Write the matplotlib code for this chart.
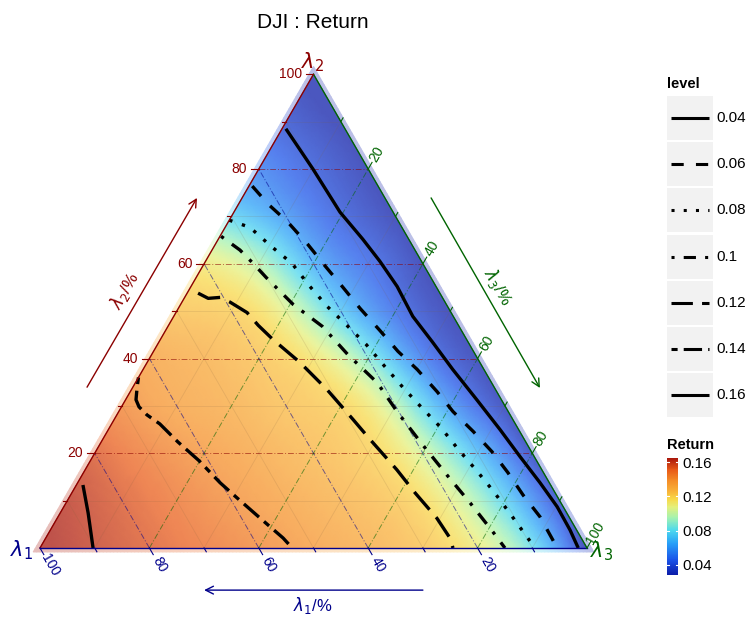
import numpy as np
import matplotlib
matplotlib.use('Agg')
import matplotlib.pyplot as plt
import matplotlib.tri as mtri
from matplotlib.colors import LinearSegmentedColormap, Normalize, to_rgb
from matplotlib.patches import Rectangle
from matplotlib.cm import ScalarMappable

plt.rcParams['font.family'] = ['Liberation Sans', 'DejaVu Sans']

# Return surface: one row per lambda2 = 0,10,...,100,
# each row runs over lambda3 = 0,10,... up to 100 - lambda2
ret_rows = [
    [0.166, 0.160, 0.1545, 0.149, 0.143, 0.137, 0.131, 0.124, 0.111, 0.082, 0.026],
    [0.162, 0.155, 0.148, 0.141, 0.135, 0.129, 0.123, 0.108, 0.077, 0.034],
    [0.155, 0.146, 0.139, 0.133, 0.127, 0.121, 0.103, 0.070, 0.032],
    [0.143, 0.1355, 0.131, 0.125, 0.120, 0.098, 0.059, 0.030],
    [0.135, 0.130, 0.124, 0.114, 0.088, 0.051, 0.029],
    [0.124, 0.121, 0.106, 0.074, 0.046, 0.028],
    [0.112, 0.097, 0.066, 0.045, 0.028],
    [0.077, 0.059, 0.041, 0.028],
    [0.053, 0.040, 0.028],
    [0.037, 0.027],
    [0.026],
]

levels = ['0.04', '0.06', '0.08', '0.1', '0.12', '0.14', '0.16']

# contour lines, (lambda2 %, lambda3 %)
l2_004 = [88.5, 80.0, 70.9, 65.2, 60.5, 55.2, 48.9, 43.4, 37.7, 31.3, 25.0, 19.3, 13.8, 8.7, 3.8, 0.0]
l3_004 = [0.7, 9.9, 19.4, 26.4, 31.9, 37.7, 43.7, 50.1, 56.6, 64.2, 71.6, 78.1, 84.5, 90.2, 95.0, 98.4]
l2_006 = [76.4, 72.6, 68.8, 64.1, 59.5, 55.0, 50.6, 45.9, 41.5, 37.7, 33.0, 28.8, 24.6, 20.3, 15.9, 11.2, 6.6, 1.7, 0.0]
l3_006 = [0.6, 5.4, 10.9, 16.9, 22.4, 27.9, 33.2, 39.2, 44.7, 50.1, 56.1, 61.1, 66.9, 72.5, 77.6, 82.7, 88.1, 92.9, 94.5]
l2_008 = [69.2, 67.7, 63.7, 60.1, 55.4, 51.0, 47.0, 43.0, 38.3, 33.9, 29.6, 25.4, 20.7, 16.3, 11.9, 7.0, 2.3, 0.0]
l3_008 = [0.0, 4.5, 10.4, 16.0, 21.5, 27.0, 32.6, 38.1, 43.9, 49.4, 55.0, 60.6, 66.2, 71.7, 77.0, 82.6, 87.9, 90.5]
l2_010 = [65.8, 62.9, 60.1, 57.1, 51.4, 46.8, 40.8, 34.9, 28.6, 22.0, 15.4, 9.5, 3.4, 0.0]
l3_010 = [0.2, 5.1, 8.9, 12.8, 20.6, 28.2, 35.9, 44.2, 51.1, 58.8, 66.7, 73.9, 81.1, 85.0]
l2_012 = [53.8, 52.7, 52.9, 51.9, 49.7, 47.0, 44.0, 39.2, 33.4, 27.1, 22.9, 16.5, 11.6, 6.3, 2.1, 0.0]
l3_012 = [2.0, 4.4, 6.5, 8.8, 13.0, 16.4, 20.6, 27.9, 35.8, 43.7, 48.9, 57.0, 62.8, 69.4, 73.9, 75.5]
l2_014 = [36.0, 33.9, 31.3, 29.8, 28.1, 26.2, 22.4, 18.4, 13.8, 10.6, 6.3, 2.1, 0.0]
l3_014 = [0.0, 0.8, 1.9, 3.2, 5.5, 8.8, 14.0, 19.9, 26.0, 30.7, 37.1, 43.4, 46.1]
l2_016 = [13.3, 7.4, 0.0]
l3_016 = [1.2, 5.1, 9.7]

contours = [(l2_004, l3_004), (l2_006, l3_006), (l2_008, l3_008), (l2_010, l3_010),
            (l2_012, l3_012), (l2_014, l3_014), (l2_016, l3_016)]
# R linetypes: solid, dashed, dotted, dotdash, longdash, twodash, solid
styles = ['-', (0, (4, 4)), (0, (1, 3)), (0, (1, 3, 4, 3)), (0, (7, 3)), (0, (2, 2, 6, 2)), '-']

ticks = [20, 40, 60, 80, 100]
minor = [10, 30, 50, 70, 90]

RED, BLUE, GREEN = '#8B0000', '#00008B', '#006400'
H = np.sqrt(3) / 2


def tern(l2, l3):
    l2 = np.asarray(l2, float) / 100
    l3 = np.asarray(l3, float) / 100
    return l3 + l2 / 2, l2 * H


vmin, vmax = 0.028, 0.165
anchors = [(0.0, '#0c1ca8'), (0.125, '#1a52e8'), (0.27, '#28a0f8'), (0.38, '#4cd8ee'),
           (0.49, '#a4f2b0'), (0.58, '#e4f07c'), (0.65, '#f8d848'), (0.72, '#f8b038'),
           (0.80, '#f59028'), (0.90, '#e85a18'), (1.0, '#a8160c')]
cmap = LinearSegmentedColormap.from_list('ret', anchors)


def faded(a):
    return LinearSegmentedColormap.from_list(
        'f', [(p, tuple(a * np.array(to_rgb(c)) + (1 - a))) for p, c in anchors])


norm = Normalize(vmin, vmax)

fig = plt.figure(figsize=(7.53, 6.18), dpi=100)
ax = fig.add_axes([0, 0, 1, 1])
ax.set_xlim(-40 / 547, 713 / 547)
ax.set_ylim(-70 / 547, 548 / 547)
ax.axis('off')

# field
pb, pc, pv = [], [], []
for i, row in enumerate(ret_rows):
    for j, v in enumerate(row):
        pb.append(10 * i)
        pc.append(10 * j)
        pv.append(v)
x, y = tern(pb, pc)
z = np.array(pv)
tri = mtri.Triangulation(x, y)
tri_f, z_f = mtri.UniformTriRefiner(tri).refine_field(z, subdiv=4)
z_f = np.clip(z_f, vmin, vmax)

xc, yc = 0.5, H / 3
halo = mtri.Triangulation(xc + 1.025 * (tri_f.x - xc), yc + 1.025 * (tri_f.y - yc), tri_f.triangles)
ax.tripcolor(halo, z_f, shading='gouraud', cmap=faded(0.28), norm=norm)
ax.tripcolor(tri_f, z_f, shading='gouraud', cmap=faded(0.74), norm=norm)

# grid
for v in minor:
    for p, q in [((v, 0), (v, 100 - v)), ((0, 100 - v), (100 - v, 0)), ((0, v), (100 - v, v))]:
        gx, gy = tern([p[0], q[0]], [p[1], q[1]])
        ax.plot(gx, gy, color='#806040', alpha=0.16, lw=0.6)
for v in ticks[:-1]:
    for p, q, col in [((v, 0), (v, 100 - v), RED), ((0, 100 - v), (100 - v, 0), BLUE),
                      ((0, v), (100 - v, v), GREEN)]:
        gx, gy = tern([p[0], q[0]], [p[1], q[1]])
        ax.plot(gx, gy, color=col, alpha=0.55, lw=0.7, ls=(0, (6, 2, 1, 2)))

# contours
for (l2, l3), st in zip(contours, styles):
    cx, cy = tern(l2, l3)
    ax.plot(cx, cy, color='black', lw=2.4, ls=st, solid_capstyle='butt', dash_capstyle='butt')

# edges
ax.plot([0, 0.5], [0, H], color=RED, lw=1)
ax.plot([0, 1], [0, 0], color=BLUE, lw=1)
ax.plot([1, 0.5], [0, H], color=GREEN, lw=1)

# ticks and labels
for v in ticks + minor:
    L = 0.014 if v in ticks else 0.008
    ex, ey = tern(v, 0)
    ax.plot([ex, ex - L], [ey, ey], color=RED, lw=0.8)
    ex, ey = tern(0, 100 - v)
    ax.plot([ex, ex + L * 0.5], [ey, ey - L * H], color=BLUE, lw=0.8)
    ex, ey = tern(100 - v, v)
    ax.plot([ex, ex + L * 0.5], [ey, ey + L * H], color=GREEN, lw=0.8)
for v in ticks:
    ex, ey = tern(v, 0)
    ax.text(ex - 0.021, ey, str(v), color=RED, fontsize=10, ha='right', va='center')
    ex, ey = tern(0, 100 - v)
    ax.text(ex + 0.036 * 0.5, ey - 0.036 * H, str(v), color=BLUE, fontsize=10,
            ha='center', va='center', rotation=-60)
    ex, ey = tern(100 - v, v)
    ax.text(ex + 0.032 * 0.5, ey + 0.032 * H, str(v), color=GREEN, fontsize=10,
            ha='center', va='center', rotation=60)

ax.text(-0.033, -0.004, r'$\lambda_1$', color=BLUE, fontsize=15, ha='center', va='center')
ax.text(0.499, 0.889, r'$\lambda_2$', color=RED, fontsize=15, ha='center', va='center')
ax.text(1.026, -0.006, r'$\lambda_3$', color=GREEN, fontsize=15, ha='center', va='center')

ax.text(0.155, 0.470, r'$\lambda_2$/%', color=RED, fontsize=12, ha='center', va='center', rotation=60)
ax.text(0.837, 0.477, r'$\lambda_3$/%', color=GREEN, fontsize=12, ha='center', va='center', rotation=-60)
ax.text(0.499, -0.105, r'$\lambda_1$/%', color=BLUE, fontsize=12, ha='center', va='center')
arw = dict(arrowstyle='->', lw=1, mutation_scale=14, shrinkA=0, shrinkB=0)
ax.annotate('', xy=(0.287, 0.640), xytext=(0.086, 0.294), arrowprops=dict(color=RED, **arw))
ax.annotate('', xy=(0.914, 0.2925), xytext=(0.715, 0.640), arrowprops=dict(color=GREEN, **arw))
ax.annotate('', xy=(0.300, -0.077), xytext=(0.700, -0.077), arrowprops=dict(color=BLUE, **arw))

fig.text(313 / 753, 1 - 22 / 618, 'DJI : Return', ha='center', va='center', fontsize=15)

# legend for contour levels
ov = fig.add_axes([0, 0, 1, 1], facecolor='none')
ov.set_xlim(0, 753)
ov.set_ylim(618, 0)
ov.axis('off')
ov.text(667, 84, 'level', fontsize=10.5, fontweight='bold', ha='left', va='center')
for i, (lab, st) in enumerate(zip(levels, styles)):
    y0 = 96 + i * 46.2
    ov.add_patch(Rectangle((667, y0), 46, 44, color='#f2f2f2', lw=0))
    ov.plot([671, 709], [y0 + 22, y0 + 22], color='black', lw=2.2, ls=st, solid_capstyle='butt')
    ov.text(716, y0 + 22, lab, fontsize=11, ha='left', va='center')
ov.text(667, 445, 'Return', fontsize=10.5, fontweight='bold', ha='left', va='center')

cax = fig.add_axes([667 / 753, 43 / 618, 11 / 753, 117 / 618])
cb = fig.colorbar(ScalarMappable(norm=norm, cmap=cmap), cax=cax)
cb.outline.set_visible(False)
cb.set_ticks([0.04, 0.08, 0.12, 0.16])
cb.set_ticklabels(['0.04', '0.08', '0.12', '0.16'])
cax.tick_params(length=0, labelsize=11, pad=3)
for t in [0.04, 0.08, 0.12, 0.16]:
    cax.axhline(t, 0, 0.2, color='white', lw=0.8)
    cax.axhline(t, 0.8, 1, color='white', lw=0.8)

fig.savefig('out.png', dpi=100)
